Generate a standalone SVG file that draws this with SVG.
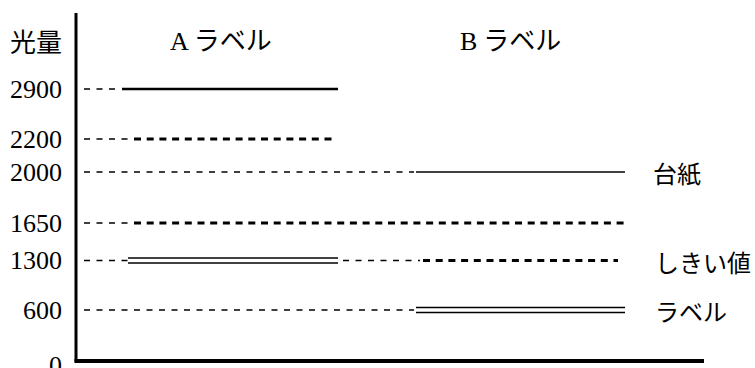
<svg xmlns="http://www.w3.org/2000/svg" width="755" height="368" viewBox="0 0 755 368">
<style>
.thin{stroke:#000;stroke-width:1.3;stroke-dasharray:6 6.5;fill:none}
.thick{stroke:#000;stroke-width:3;stroke-dasharray:7 5.7;fill:none}
.solid{stroke:#000;fill:none}
.dbl{stroke:#000;stroke-width:1.3;fill:none}
.num{font-family:"Liberation Serif",serif;font-size:26px;fill:#000;text-anchor:end}
.cjk{font-family:"Noto Sans CJK JP",sans-serif;font-size:24px;fill:#000}
.head{font-family:"Liberation Serif","Noto Sans CJK JP",serif;font-size:26px;fill:#000}
</style>
<rect width="755" height="368" fill="#fff"/>
<g id="axes">
<line x1="76" y1="13" x2="76" y2="362" stroke="#000" stroke-width="3"/>
<line x1="74.5" y1="361" x2="704" y2="361" stroke="#000" stroke-width="4"/>
</g>
<g id="y-labels">
<text x="10" y="52" style="font-family:'Noto Sans CJK JP',sans-serif;font-size:26px">光量</text>
<text class="num" x="62" y="98">2900</text>
<text class="num" x="62" y="148">2200</text>
<text class="num" x="62" y="181">2000</text>
<text class="num" x="62" y="232">1650</text>
<text class="num" x="62" y="269">1300</text>
<text class="num" x="62" y="319">600</text>
<text class="num" x="62" y="374">0</text>
</g>
<g id="column-labels">
<text class="head" x="170" y="50">A<tspan dx="5" style="font-family:'Noto Sans CJK JP',sans-serif">ラベル</tspan></text>
<text class="head" x="460" y="50">B<tspan dx="6" style="font-family:'Noto Sans CJK JP',sans-serif">ラベル</tspan></text>
</g>
<g id="connectors">
<line class="thin" x1="84" y1="89" x2="120" y2="89"/>
<line class="solid" x1="122" y1="89" x2="338" y2="89" stroke-width="2.5"/>
<line class="thin" x1="84" y1="139" x2="130" y2="139"/>
<line class="thick" x1="134" y1="139" x2="333" y2="139"/>
<line class="thin" x1="84" y1="172" x2="414" y2="172"/>
<line class="solid" x1="416" y1="172" x2="625" y2="172" stroke-width="1.5"/>
<line class="thin" x1="84" y1="223" x2="130" y2="223"/>
<line class="thick" x1="134" y1="223" x2="625" y2="223"/>
<line class="thin" x1="84" y1="260.5" x2="128" y2="260.5"/>
<line class="dbl" x1="128" y1="258" x2="338" y2="258"/>
<line class="dbl" x1="128" y1="263" x2="338" y2="263"/>
<line class="thin" x1="343" y1="260.5" x2="420" y2="260.5"/>
<line class="thick" x1="423" y1="260.5" x2="618" y2="260.5"/>
<line class="thin" x1="84" y1="310" x2="414" y2="310"/>
<line class="dbl" x1="416" y1="307.5" x2="625" y2="307.5"/>
<line class="dbl" x1="416" y1="312.5" x2="625" y2="312.5"/>
</g>
<g id="legend">
<text class="cjk" x="653" y="183">台紙</text>
<text class="cjk" x="655" y="272">しきい値</text>
<text class="cjk" x="655" y="321">ラベル</text>
</g>
</svg>
